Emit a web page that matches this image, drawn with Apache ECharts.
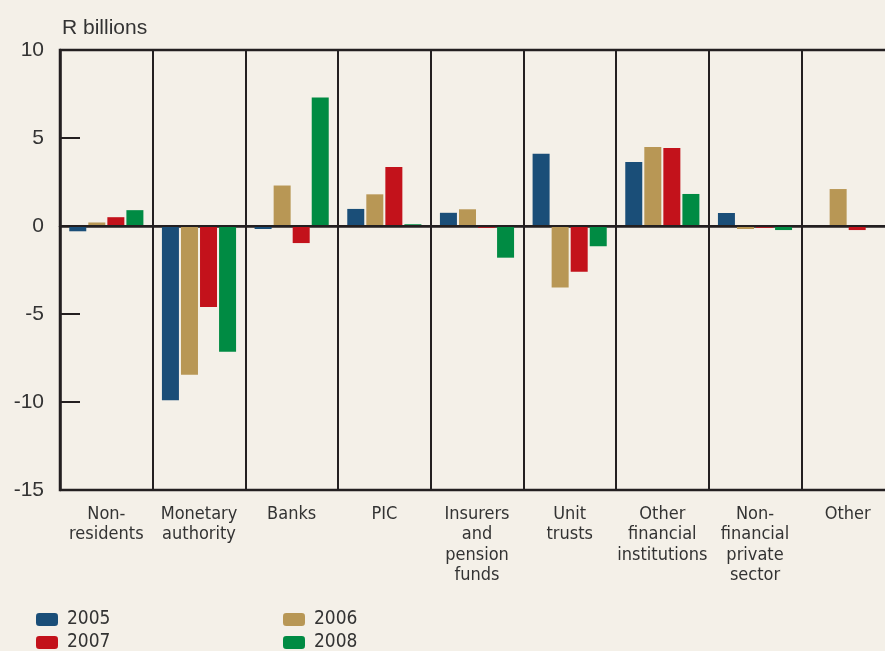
<html>
<head>
<meta charset="utf-8">
<script src="https://cdn.jsdelivr.net/npm/echarts@6/dist/echarts.min.js"></script>
</head>
<body>
<style>
    html, body, #main {
        width: 100%;
        height: 100%;
        margin: 0;
        background: #f4f0e8;
    }
</style>
<div id='main'></div>
<script>
    var categories = ['Non-\nresidents', 'Monetary\nauthority', 'Banks', 'PIC',
        'Insurers\nand\npension\nfunds', 'Unit\ntrusts', 'Other\nfinancial\ninstitutions',
        'Non-\nfinancial\nprivate\nsector', 'Other'];
    var years = ['2005', '2006', '2007', '2008'];
    var v2005 = [-0.3, -9.9, -0.17, 0.97, 0.75, 4.1, 3.64, 0.74, 0];
    var v2006 = [0.2, -8.45, 2.3, 1.8, 0.95, -3.5, 4.49, -0.17, 2.1];
    var v2007 = [0.5, -4.6, -0.97, 3.35, -0.1, -2.6, 4.43, -0.1, -0.23];
    var v2008 = [0.9, -7.15, 7.3, 0.1, -1.8, -1.15, 1.82, -0.23, 0];
    var colors = ['#1a4e78', '#b89755', '#c3121b', '#008b43'];
    var yTicks = [-15, -10, -5, 0, 5, 10];

    var chart = echarts.init(document.getElementById('main'));
    var font = 'Liberation Sans, Arial, sans-serif';
    var narrow = 'Liberation Sans Narrow, DejaVu Sans Condensed, Liberation Sans, sans-serif';
    var values = [v2005, v2006, v2007, v2008];
    var series = years.map(function (y, i) {
        var s = {
            name: y,
            type: 'bar',
            data: values[i],
            barCategoryGap: '20%',
            barGap: '12%',
            itemStyle: {color: colors[i]}
        };
        if (i === 0) {
            s.markLine = {
                silent: true,
                symbol: 'none',
                label: {show: false},
                lineStyle: {color: '#231f20', width: 2, type: 'solid'},
                data: [{yAxis: 0}]
            };
        }
        return s;
    });
    // legend positions: 2005, 2006, 2007, 2008
    var legendPos = [[36, 610], [283, 610], [36, 633], [283, 633]];
    var legends = years.map(function (y, i) {
        return {
            data: [y], left: legendPos[i][0], top: legendPos[i][1], padding: 0,
            itemWidth: 22, itemHeight: 13, itemGap: 0,
            textStyle: {fontSize: 19, color: '#333', fontFamily: narrow, padding: [0, 0, 0, 4]}
        };
    });
    var option = {
        backgroundColor: '#f4f0e8',
        animation: false,
        color: colors,
        title: {
            text: 'R billions', left: 57, top: 13,
            textStyle: {fontSize: 21, fontWeight: 'normal', color: '#333', fontFamily: font}
        },
        legend: legends,
        grid: {
            left: 60, top: 50, height: 440, width: 834,
            outerBoundsMode: 'none',
            show: true, borderColor: '#231f20', borderWidth: 2.5,
            backgroundColor: 'transparent'
        },
        xAxis: {
            type: 'category',
            data: categories,
            axisLine: {show: true, lineStyle: {color: '#231f20', width: 2.5}},
            axisTick: {show: false},
            splitLine: {show: true, interval: 0, lineStyle: {color: '#231f20', width: 2}},
            axisLabel: {
                interval: 0, fontSize: 18, lineHeight: 20.5, color: '#333',
                fontFamily: narrow, margin: 14
            }
        },
        yAxis: {
            type: 'value',
            min: yTicks[0], max: yTicks[yTicks.length - 1], interval: 5,
            axisLine: {show: true, lineStyle: {color: '#231f20', width: 2.5}},
            axisTick: {show: true, inside: true, length: 20, lineStyle: {color: '#231f20', width: 2}},
            splitLine: {show: false},
            axisLabel: {fontSize: 21, color: '#333', fontFamily: font, margin: 16}
        },
        series: series
    };
    chart.setOption(option);
</script>
</body>
</html>
